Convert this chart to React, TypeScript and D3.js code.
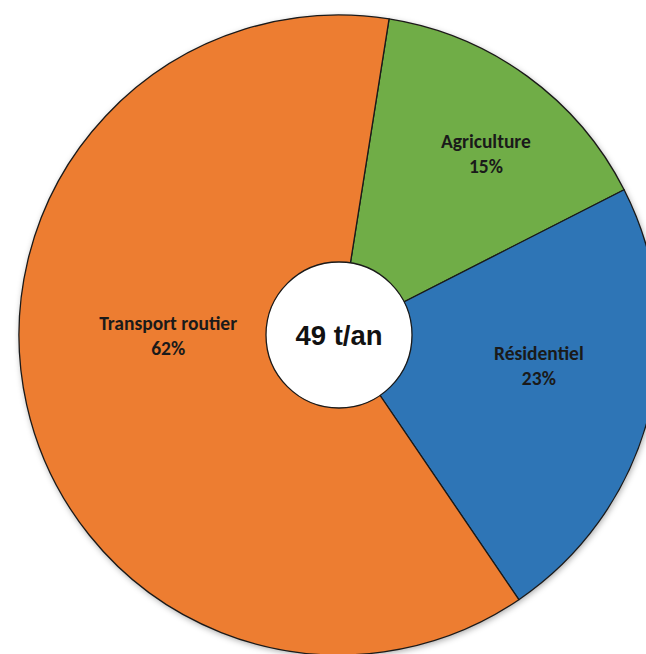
import React from "react";
import * as d3 from "d3";

const categories = ["Agriculture", "Résidentiel", "Transport routier"];
const shares = [15, 23, 62];
const sliceColors = ["#70AD47", "#2E75B6", "#ED7D31"];
const centerLabel = "49 t/an";

// label placement (polar, degrees clockwise from top, radius as fraction of outer radius)
const labelAngles = [39.1, 98.8, 269.7];
const labelRadii = [0.728, 0.632, 0.534];

const W = 646;
const H = 654;
const cx = 339;
const cy = 335;
const R = 320;
const innerR = 73;
const startDeg = 9.0;

export default function App() {
  const rad = (d: number) => (d * Math.PI) / 180;
  const pie = d3
    .pie<number>()
    .sort(null)
    .value((d) => d)
    .startAngle(rad(startDeg))
    .endAngle(rad(startDeg) + 2 * Math.PI);
  const arcs = pie(shares);
  const arcGen = d3.arc<d3.PieArcDatum<number>>().innerRadius(0).outerRadius(R);
  const total = d3.sum(shares);

  return (
    <svg
      width={W}
      height={H}
      style={{ position: "absolute", left: 0, top: 0, background: "#fff" }}
    >
      <defs>
        <filter id="sh" x="-10%" y="-10%" width="120%" height="120%">
          <feDropShadow dx="1" dy="2" stdDeviation="3" floodColor="#000" floodOpacity="0.35" />
        </filter>
      </defs>
      <g transform={`translate(${cx},${cy})`}>
        <circle r={R} fill="#ED7D31" filter="url(#sh)" />
        {arcs.map((a, i) => (
          <path
            key={categories[i]}
            d={arcGen(a) || ""}
            fill={sliceColors[i]}
            stroke="#1a1a1a"
            strokeWidth={1.3}
            strokeLinejoin="round"
          />
        ))}
        <circle r={innerR} fill="#fff" stroke="#1a1a1a" strokeWidth={1.3} />
        <text
          x={0}
          y={0}
          dy="0.36em"
          textAnchor="middle"
          fontFamily="Arial, 'Liberation Sans', sans-serif"
          fontWeight="bold"
          fontSize={27.5}
          fill="#111"
        >
          {centerLabel}
        </text>
        {arcs.map((a, i) => {
          const ang = rad(labelAngles[i]);
          const r = labelRadii[i] * R;
          const x = r * Math.sin(ang);
          const y = -r * Math.cos(ang);
          const pct = Math.round((shares[i] / total) * 100) + "%";
          return (
            <text
              key={"l" + i}
              textAnchor="middle"
              fontFamily="Carlito, Calibri, Lato, sans-serif"
              fontWeight="bold"
              fontSize={19.5}
              fill="#1a1a1a"
            >
              <tspan x={x} y={y - 6}>
                {categories[i]}
              </tspan>
              <tspan x={x} y={y + 19}>
                {pct}
              </tspan>
            </text>
          );
        })}
      </g>
    </svg>
  );
}
